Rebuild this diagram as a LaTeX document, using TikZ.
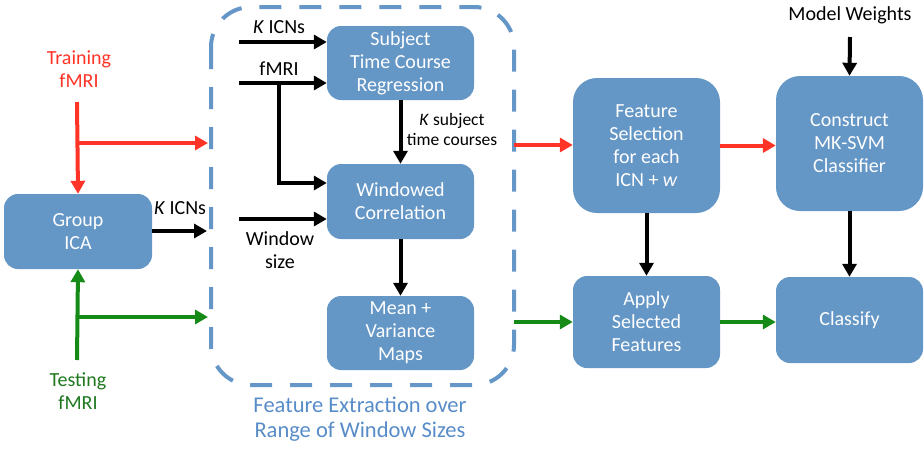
\documentclass[tikz,border=0pt]{standalone}
\usepackage{fontspec}
\setmainfont{Carlito}
\usetikzlibrary{arrows.meta}
\definecolor{boxblue}{RGB}{100,150,198}
\definecolor{dashblue}{RGB}{100,150,200}
\definecolor{capblue}{RGB}{88,140,200}
\definecolor{myred}{RGB}{255,51,38}
\definecolor{mygreen}{RGB}{22,138,22}
\definecolor{txtgreen}{RGB}{30,120,30}
\begin{document}
\begin{tikzpicture}[x=1pt,y=-1pt,
  stepbox/.style={fill=boxblue,draw=none,rounded corners=14pt,text=white,align=center,
    inner sep=0pt,font=\fontsize{20}{23}\selectfont},
  bigbox/.style={stepbox,rounded corners=24pt},
  lbl/.style={align=center,inner sep=0pt,font=\fontsize{20}{23}\selectfont},
  arr/.style={line width=4pt,-{Triangle[length=13pt,width=14pt]}},
  ]
\useasboundingbox (0,0) rectangle (924,448);
% dashed frame
\draw[dashblue,line width=4pt,dash pattern=on 22pt off 18pt,rounded corners=40pt] (211,7) rectangle (514,385);
\node[lbl,text=capblue,font=\fontsize{22.5}{25}\selectfont] (cap) at (360,419.5) {Feature Extraction over\\Range of Window Sizes};
% boxes
\node[stepbox,minimum width=148pt,minimum height=75pt] (gica) at (78,231.5) {Group\\ICA};
\node[stepbox,minimum width=147pt,minimum height=74pt] (subj) at (400.5,63) {Subject\\Time Course\\Regression};
\node[stepbox,minimum width=147pt,minimum height=75pt] (wc) at (400.5,201.5) {Windowed\\Correlation};
\node[stepbox,minimum width=147pt,minimum height=74pt] (mv) at (400.5,333) {Mean +\\Variance\\Maps};
\node[bigbox,minimum width=147pt,minimum height=135pt] (fs) at (646.5,145.5) {Feature\\Selection\\for each\\ICN + \textit{w}};
\node[bigbox,minimum width=147pt,minimum height=135pt] (cons) at (849.5,143.5) {Construct\\MK-SVM\\Classifier};
\node[stepbox,minimum width=147pt,minimum height=92pt] (app) at (646.5,322) {Apply\\Selected\\Features};
\node[stepbox,minimum width=147pt,minimum height=86pt] (cl) at (849.5,320) {Classify};
% labels
\node[lbl,text=myred] (train) at (79,69) {Training\\fMRI};
\node[lbl,text=txtgreen] (test) at (78,391) {Testing\\fMRI};
\node[lbl] (kicn0) at (180,208) {\textit{K} ICNs};
\node[lbl] (kicn1) at (279,27) {\textit{K} ICNs};
\node[lbl] (fmri1) at (279,69) {fMRI};
\node[lbl] (wsz) at (280,250.5) {Window\\size};
\node[lbl,font=\fontsize{17.5}{20}\selectfont] (ksub) at (452,129) {\textit{K} subject\\time courses};
\node[lbl] (mw) at (850,15) {Model Weights};
% coordinates
\coordinate (trtop) at (77,102);
\coordinate (trb) at (77,143);
\coordinate (trin) at (208,143);
\coordinate (tebot) at (77,360);
\coordinate (teb) at (77,317);
\coordinate (tein) at (208,317);
\coordinate (gout) at (207,231);
\coordinate (k1) at (239,42);
\coordinate (f1) at (239,83);
\coordinate (fb) at (279,83);
\coordinate (fbend) at (279,183);
\coordinate (ws) at (239,219);
\coordinate (rout) at (514,145);
\coordinate (gout2) at (514,322);
\coordinate (mwtop) at (850,37);
% red
\draw[arr,myred] (trtop) -- (gica.north);
\draw[arr,myred] (trb) -- (trin);
\draw[arr,myred] (rout) -- (rout -| fs.west);
\draw[arr,myred] (fs.east) -- (fs.east -| cons.west);
% green
\draw[arr,mygreen] (tebot) -- (gica.south);
\draw[arr,mygreen] (teb) -- (tein);
\draw[arr,mygreen] (gout2) -- (gout2 -| app.west);
\draw[arr,mygreen] (app.east) -- (app.east -| cl.west);
% black
\draw[arr] (gica.east |- gout) -- (gout);
\draw[arr] (k1) -- (k1 -| subj.west);
\draw[arr] (f1) -- (f1 -| subj.west);
\draw[arr] (fb) -- (fbend) -- (fbend -| wc.west);
\draw[arr] (ws) -- (ws -| wc.west);
\draw[arr] (subj.south) -- (wc.north);
\draw[arr] (wc.south) -- (mv.north);
\draw[arr] (fs.south) -- (app.north);
\draw[arr] (cons.south) -- (cl.north);
\draw[arr] (mwtop) -- (cons.north);
\end{tikzpicture}
\end{document}
